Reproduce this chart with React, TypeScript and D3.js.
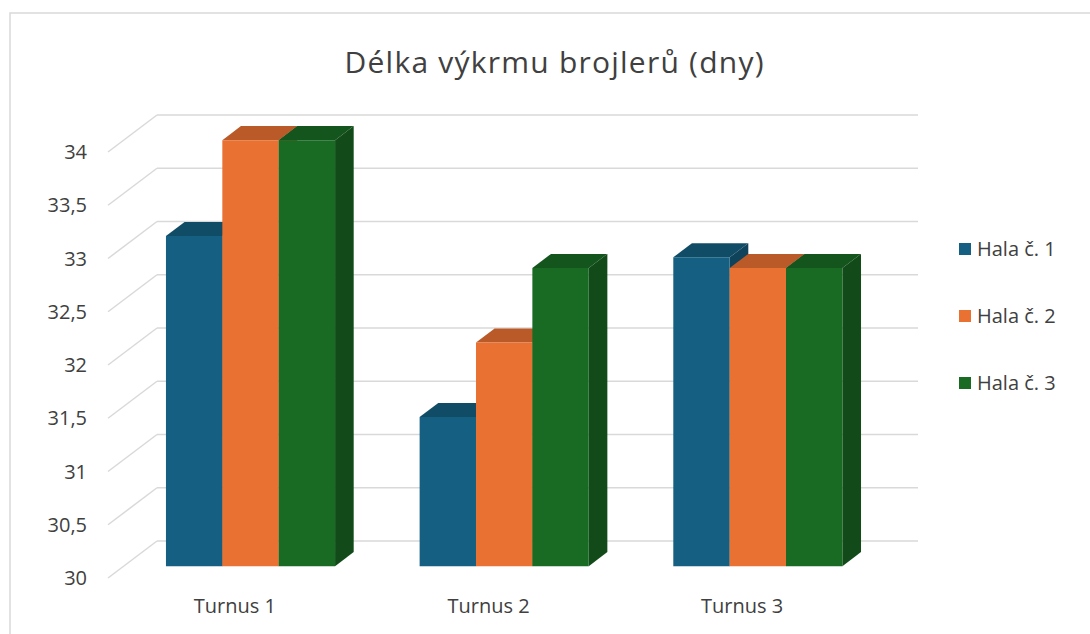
import * as d3 from "d3";

const categories = ["Turnus 1", "Turnus 2", "Turnus 3"];
const seriesNames = ["Hala č. 1", "Hala č. 2", "Hala č. 3"];
const hala1 = [33.1, 31.4, 32.9];
const hala2 = [34, 32.1, 32.8];
const hala3 = [34, 32.8, 32.8];
const yTicks = [30, 30.5, 31, 31.5, 32, 32.5, 33, 33.5, 34];
const title = "Délka výkrmu brojlerů (dny)";

const seriesValues = [hala1, hala2, hala3];
const colors = ["#156082", "#E97132", "#196B24"];

const width = 1090;
const height = 634;
const font = "'Open Sans', 'Noto Sans', sans-serif";
const textColor = "#404040";
const gridColor = "#d9d9d9";

// back wall of the 3D plot area
const wall = { left: 157, right: 918, top: 115, bottom: 541 };
// floor depth, from the back wall to the front edge
const depth = { dx: -49, dy: 37 };
// bars sit between these depth fractions (0 = back wall, 1 = front)
const barBack = 0.3;
const barFront = 0.68;

export default function App() {
  const y = d3.scaleLinear().domain([30, 34]).range([wall.bottom, wall.top]);
  const x0 = d3.scaleBand<string>().domain(categories).range([wall.left, wall.right]);
  const x1 = d3
    .scaleBand<string>()
    .domain(seriesNames)
    .range([0, x0.bandwidth()])
    .paddingOuter(0.75)
    .paddingInner(0);

  const proj = (x: number, v: number, f: number): [number, number] => [
    x + f * depth.dx,
    y(v) + f * depth.dy,
  ];
  const pts = (p: [number, number][]) => p.map((d) => d.join(",")).join(" ");

  const bars: JSX.Element[] = [];
  categories.forEach((cat, ci) => {
    seriesNames.forEach((s, si) => {
      const v = seriesValues[si][ci];
      const xl = x0(cat)! + x1(s)!;
      const xr = xl + x1.bandwidth();
      const base = d3.color(colors[si])!;
      const top = base.darker(0.65).toString();
      const side = base.darker(1.0).toString();
      const front = pts([
        proj(xl, 30, barFront),
        proj(xr, 30, barFront),
        proj(xr, v, barFront),
        proj(xl, v, barFront),
      ]);
      const topFace = pts([
        proj(xl, v, barFront),
        proj(xr, v, barFront),
        proj(xr, v, barBack),
        proj(xl, v, barBack),
      ]);
      const sideFace = pts([
        proj(xr, 30, barFront),
        proj(xr, 30, barBack),
        proj(xr, v, barBack),
        proj(xr, v, barFront),
      ]);
      bars.push(
        <g key={`${cat}-${s}`}>
          <polygon points={topFace} fill={top} />
          <polygon points={sideFace} fill={side} />
          <polygon points={front} fill={colors[si]} />
        </g>
      );
    });
  });

  return (
    <svg
      width={width}
      height={height}
      style={{ position: "absolute", left: 0, top: 0, background: "#fff" }}
      fontFamily={font}
    >
      <rect x={10} y={13} width={1200} height={800} fill="#fff" stroke={gridColor} strokeWidth={1.5} />

      <text
        x={554}
        y={73}
        textAnchor="middle"
        fontSize={30}
        textLength={419}
        lengthAdjust="spacing"
        fill={textColor}
      >
        {title}
      </text>

      {/* gridlines: back wall and left side */}
      {yTicks.map((t) => (
        <g key={t} stroke={gridColor} strokeWidth={1.5} fill="none">
          <line x1={wall.left} x2={wall.right} y1={y(t)} y2={y(t)} />
          <line
            x1={wall.left}
            y1={y(t)}
            x2={wall.left + depth.dx}
            y2={y(t) + depth.dy}
          />
        </g>
      ))}

      {yTicks.map((t) => (
        <text
          key={`l${t}`}
          x={87}
          y={y(t) + depth.dy}
          dy="0.35em"
          textAnchor="end"
          fontSize={20}
          fill={textColor}
        >
          {String(t).replace(".", ",")}
        </text>
      ))}

      {bars}

      {categories.map((c) => (
        <text
          key={c}
          x={x0(c)! + x0.bandwidth() / 2 + depth.dx}
          y={y(30) + depth.dy + 35}
          textAnchor="middle"
          fontSize={20}
          fill={textColor}
        >
          {c}
        </text>
      ))}

      {seriesNames.map((s, i) => (
        <g key={s} transform={`translate(959, ${249 + i * 67})`}>
          <rect x={0} y={-6} width={12} height={12} fill={colors[i]} />
          <text x={18} y={0} dy="0.35em" fontSize={20} fill={textColor}>
            {s}
          </text>
        </g>
      ))}
    </svg>
  );
}
